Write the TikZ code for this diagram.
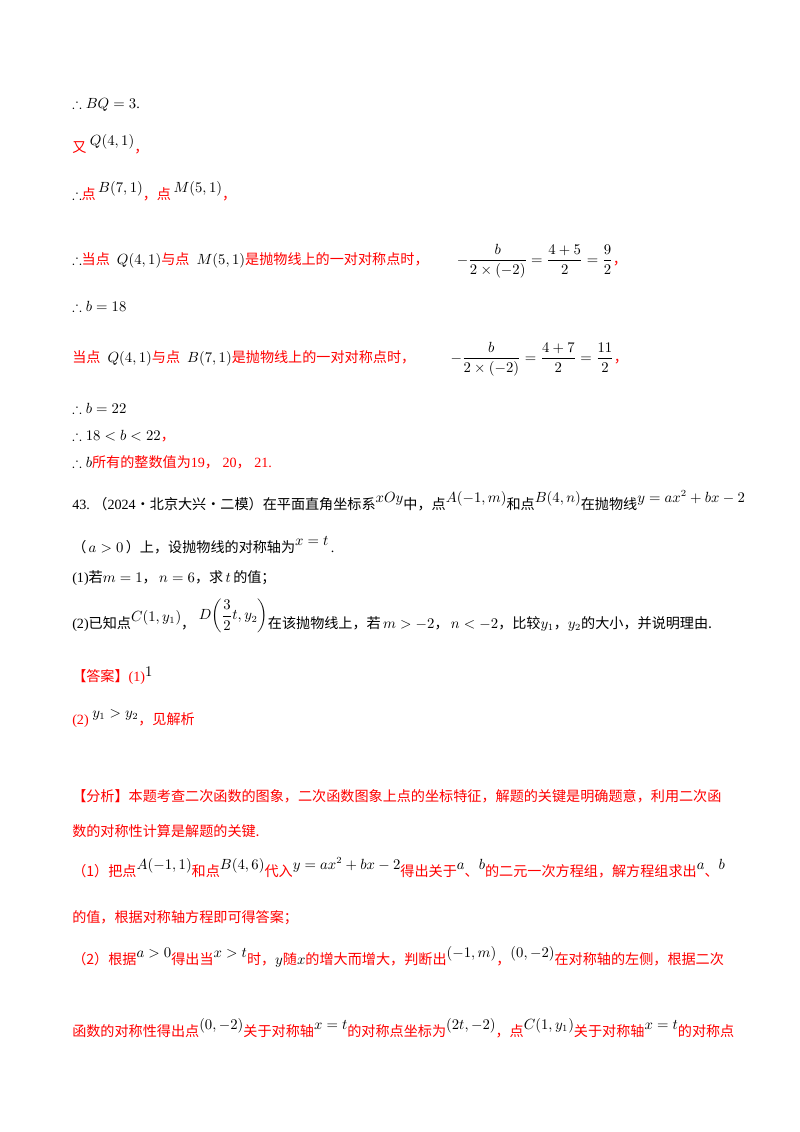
\documentclass[tikz,border=0pt]{standalone}
\usepackage{amsmath,amssymb}
\usepackage{fontspec}
\setmainfont{Liberation Serif}
\newfontfamily\cjk{Noto Sans CJK SC}
\newcommand{\R}[1]{{\color{red}\cjk #1}}
\newcommand{\K}[1]{{\cjk #1}}
\newcommand{\RR}[1]{{\color{red}#1}}
\newcommand{\U}[1]{\raisebox{5pt}{$#1$}}
\begin{document}
\begin{tikzpicture}[x=0.744pt,y=-0.744pt,
  ln/.style={anchor=base west,inner sep=0pt,font=\fontsize{10.5pt}{12pt}\selectfont}]
\useasboundingbox (0,0) rectangle (800,1132);
\node[ln] (l1) at (72,108) {$\therefore BQ=3$.};
\node[ln] (l2) at (72,152) {\R{又}\ \U{Q(4,1)}\R{，}};
\node[ln] (l3) at (72,199) {$\therefore$\R{点}\U{\,B(7,1)}\R{，点}\U{\,M(5,1)}\R{，}};
\node[ln] (l4) at (72,264) {$\therefore$\R{当点}\ \ $Q(4,1)$\R{与点}\ \ $M(5,1)$\R{是抛物线上的一对对称点时，}\qquad $-\dfrac{b}{2\times(-2)}=\dfrac{4+5}{2}=\dfrac{9}{2}$\R{，}};
\node[ln] (l5) at (72,311) {$\therefore b=18$};
\node[ln] (l6) at (72,362) {\R{当点}\ \ $Q(4,1)$\R{与点}\ \ $B(7,1)$\R{是抛物线上的一对对称点时，}\qquad\ \ $-\dfrac{b}{2\times(-2)}=\dfrac{4+7}{2}=\dfrac{11}{2}$\R{，}};
\node[ln] (l7) at (72,413) {$\therefore b=22$};
\node[ln] (l8) at (72,440) {$\therefore 18<b<22$\R{，}};
\node[ln] (l9) at (72,467) {$\therefore b$\R{所有的整数值为}\RR{19}\R{，}\ \RR{20}\R{，}\ \RR{21.}};
\node[ln] (q1) at (72,509) {43.\ \K{（}2024\K{·北京大兴·二模）在平面直角坐标系}\U{xOy}\K{中，点}\U{A(-1,m)}\K{和点}\U{B(4,n)}\K{在抛物线}\U{y=ax^2+bx-2}};
\node[ln] (q2) at (72,552) {\K{（}\,$a>0$\,\K{）上，设抛物线的对称轴为}\U{x=t}\,.};
\node[ln] (q3) at (72,582) {(1)\K{若}$m=1$\K{，}\,$n=6$\K{，求}\,$t$\,\K{的值；}};
\node[ln] (q4) at (72,628) {(2)\K{已知点}\U{C(1,y_1)}\K{，}\ \raisebox{6pt}{$D\!\left(\dfrac{3}{2}t,y_2\right)$}\K{在该抛物线上，若}\,$m>-2$\K{，}\,$n<-2$\K{，比较}$y_1$\K{，}$y_2$\K{的大小，并说明理由.}};
\node[ln] (a1) at (72,681) {\R{【答案】}\RR{(1)}\raisebox{3pt}{$1$}};
\node[ln] (a2) at (72,724) {\RR{(2)}\ \U{y_1>y_2}\R{，见解析}};
\node[ln] (f1) at (72,801) {\R{【分析】本题考查二次函数的图象，二次函数图象上点的坐标特征，解题的关键是明确题意，利用二次函}};
\node[ln] (f2) at (72,836) {\R{数的对称性计算是解题的关键.}};
\node[ln] (f3) at (72,876) {\R{（1）把点}\U{A(-1,1)}\R{和点}\U{B(4,6)}\R{代入}\U{y=ax^2+bx-2}\R{得出关于}\U{a}\R{、}\U{b}\R{的二元一次方程组，解方程组求出}\U{a}\R{、}\U{b}};
\node[ln] (f4) at (72,922) {\R{的值，根据对称轴方程即可得答案；}};
\node[ln] (f5) at (72,964) {\R{（2）根据}\U{a>0}\R{得出当}\U{x>t}\R{时，}$y$\R{随}$x$\R{的增大而增大，判断出}\U{(-1,m)}\R{，}\U{(0,-2)}\R{在对称轴的左侧，根据二次}};
\node[ln] (f6) at (72,1036) {\R{函数的对称性得出点}\U{(0,-2)}\R{关于对称轴}\U{x=t}\R{的对称点坐标为}\U{(2t,-2)}\R{，点}\U{C(1,y_1)}\R{关于对称轴}\U{x=t}\R{的对称点}};
\end{tikzpicture}
\end{document}
